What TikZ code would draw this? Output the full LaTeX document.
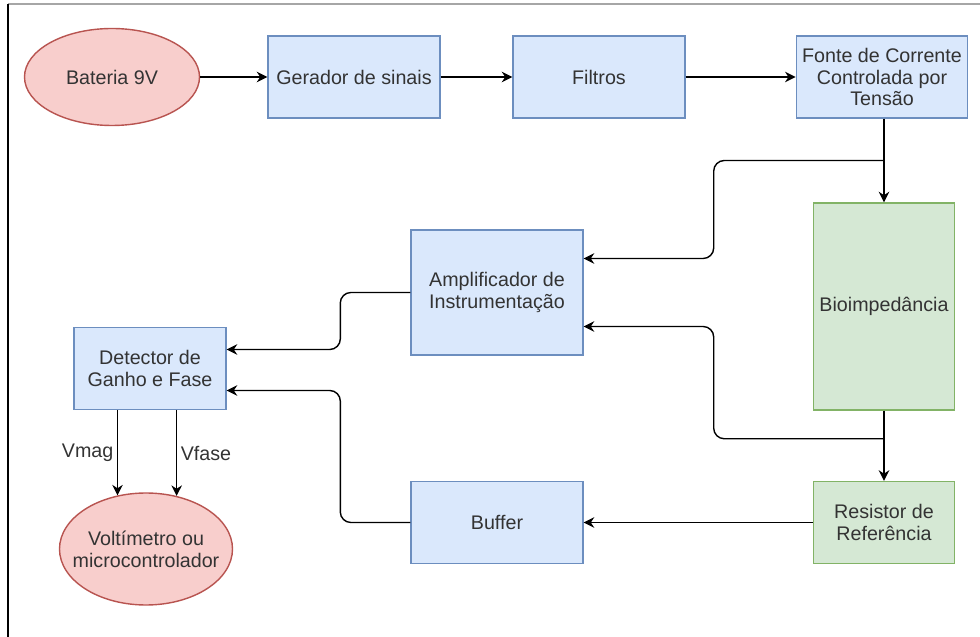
\documentclass[tikz,border=0pt]{standalone}
\usepackage{fontspec}
\setmainfont{Liberation Sans}
\usepackage{tikz}
\usetikzlibrary{arrows.meta, positioning, calc, shapes.geometric}
\usepackage{xcolor}
\definecolor{blfill}{HTML}{DAE8FC}
\definecolor{bldraw}{HTML}{6C8EBF}
\definecolor{grfill}{HTML}{D5E8D4}
\definecolor{grdraw}{HTML}{82B366}
\definecolor{rdfill}{HTML}{F8CECC}
\definecolor{rddraw}{HTML}{B85450}
\definecolor{txt}{HTML}{333333}

\begin{document}
\begin{tikzpicture}[
    every node/.style = {align=center, text=txt, font=\fontsize{11.2}{12.4}\selectfont},
    bluebox/.style  = {draw=bldraw, fill=blfill, line width=0.8pt,
                       minimum width=3.44cm, minimum height=1.64cm},
    greenbox/.style = {draw=grdraw, fill=grfill, line width=0.8pt,
                       minimum width=2.82cm, minimum height=1.64cm},
    redell/.style   = {ellipse, draw=rddraw, fill=rdfill, line width=0.8pt,
                       minimum width=3.5cm, minimum height=1.94cm, inner sep=0pt},
    arr/.style      = {-{Stealth[length=6pt,width=6pt]}, line width=0.8pt, rounded corners=6pt},
    vlabel/.style   = {inner sep=2pt},
]
\useasboundingbox (0,0) rectangle (19.6,-12.74);

%% Frame
\draw[gray!70, line width=1pt] (19.6,-0.08) -- (0.16,-0.08);
\draw[black, line width=0.8pt] (0.16,-0.08) -- (0.16,-12.74);

%% Top row
\node[redell]   (bat)   at (2.24cm,  -1.54cm) {Bateria 9V};
\node[bluebox]  (ger)   at (7.08cm,  -1.54cm) {Gerador de sinais};
\node[bluebox]  (fil)   at (11.98cm, -1.54cm) {Filtros};
\node[bluebox, minimum width=3.36cm] (fonte) at (17.64cm, -1.54cm)
    {Fonte de Corrente\\Controlada por\\Tensão};

%% Load
\node[greenbox, minimum height=4.14cm] (bio) at (17.68cm, -6.13cm) {Bioimpedância};
\node[greenbox] (res) at (17.68cm, -10.45cm) {Resistor de\\Referência};

%% Measurement
\node[bluebox, minimum height=2.5cm] (amp) at (9.94cm, -5.85cm)
    {Amplificador de\\Instrumentação};
\node[bluebox] (buf) at (9.94cm, -10.45cm) {Buffer};
\node[bluebox, minimum width=3.04cm] (det) at (3.0cm, -7.37cm)
    {Detector de\\Ganho e Fase};
\node[redell, minimum width=3.46cm, minimum height=2.24cm, inner xsep=-0.25cm]
    (volt) at (2.92cm, -10.98cm) {Voltímetro ou\\microcontrolador};

%% Helper points
\coordinate (j1) at ($(fonte.south)!0.5!(bio.north)$);
\coordinate (j2) at ($(bio.south)!0.4!(res.north)$);
\coordinate (ampin1) at ($(amp.east)+(0,0.68)$);
\coordinate (ampin2) at ($(amp.east)+(0,-0.68)$);
\coordinate (detin1) at ($(det.east)+(0,0.38)$);
\coordinate (detin2) at ($(det.east)+(0,-0.44)$);

%% Signal chain
\draw[arr] (bat) -- (ger);
\draw[arr] (ger) -- (fil);
\draw[arr] (fil) -- (fonte);
\draw[arr] (fonte.south -| bio.north) -- (bio);
\draw[arr] (bio) -- (res);
\draw[arr] (res) -- (buf);

%% Sensing taps
\draw[arr] (j1 -| bio.north) -| ($(ampin1)+(2.6,0)$) -- (ampin1);
\draw[arr] (j2) -| ($(ampin2)+(2.6,0)$) -- (ampin2);
\draw[arr] (amp.west) -- ++(-1.4,0) |- (detin1);
\draw[arr] (buf.west) -- ++(-1.4,0) |- (detin2);

%% Outputs
\draw[arr] (volt.118 |- det.south) -- node[left, vlabel] {Vmag} (volt.118);
\draw[arr] (volt.60 |- det.south) -- node[right, vlabel] {Vfase} (volt.60);

\end{tikzpicture}
\end{document}
